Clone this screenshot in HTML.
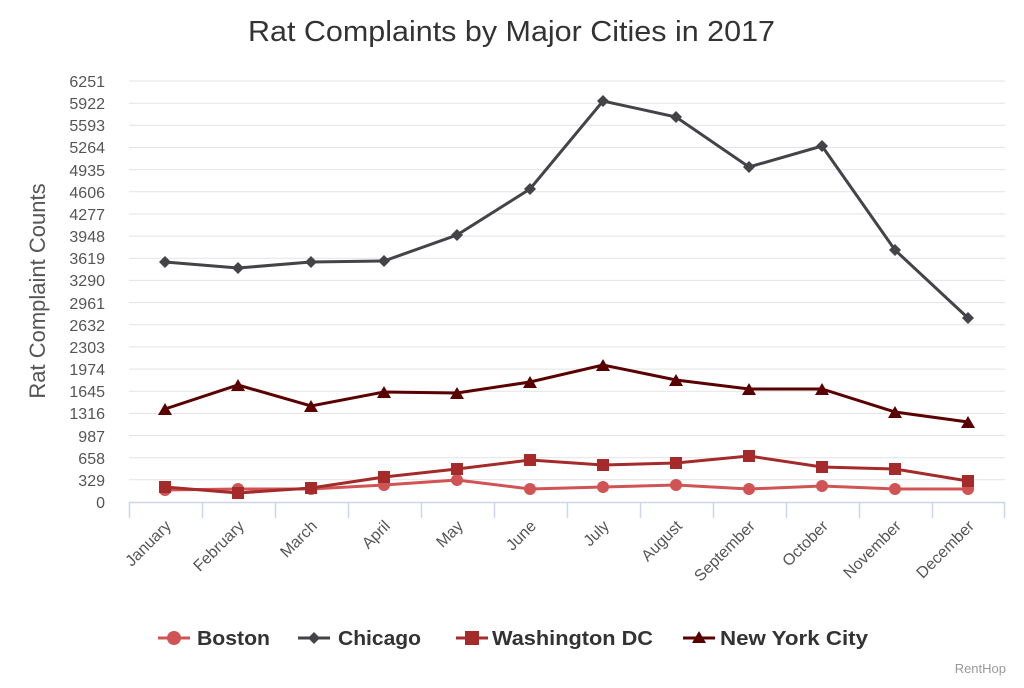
<!DOCTYPE html><html><head><style>body{margin:0;background:#fff}svg{font-family:"Liberation Sans","DejaVu Sans",sans-serif}</style></head><body>
<svg width="1024" height="683" xmlns="http://www.w3.org/2000/svg">
<text x="248" y="41" font-size="29" fill="#333" textLength="527" lengthAdjust="spacingAndGlyphs">Rat Complaints by Major Cities in 2017</text>
<g stroke="#e3e3e3" stroke-width="1">
<line x1="129" x2="1005" y1="81" y2="81"/><line x1="129" x2="1005" y1="103.2" y2="103.2"/><line x1="129" x2="1005" y1="125.3" y2="125.3"/><line x1="129" x2="1005" y1="147.5" y2="147.5"/><line x1="129" x2="1005" y1="169.6" y2="169.6"/><line x1="129" x2="1005" y1="191.8" y2="191.8"/><line x1="129" x2="1005" y1="213.9" y2="213.9"/><line x1="129" x2="1005" y1="236.1" y2="236.1"/><line x1="129" x2="1005" y1="258.3" y2="258.3"/><line x1="129" x2="1005" y1="280.4" y2="280.4"/><line x1="129" x2="1005" y1="302.6" y2="302.6"/><line x1="129" x2="1005" y1="324.7" y2="324.7"/><line x1="129" x2="1005" y1="346.9" y2="346.9"/><line x1="129" x2="1005" y1="369.1" y2="369.1"/><line x1="129" x2="1005" y1="391.2" y2="391.2"/><line x1="129" x2="1005" y1="413.4" y2="413.4"/><line x1="129" x2="1005" y1="435.5" y2="435.5"/><line x1="129" x2="1005" y1="457.7" y2="457.7"/><line x1="129" x2="1005" y1="479.8" y2="479.8"/>
</g>
<g font-size="16" fill="#555" text-anchor="end">
<text x="105" y="87">6251</text><text x="105" y="109">5922</text><text x="105" y="131">5593</text><text x="105" y="153">5264</text><text x="105" y="176">4935</text><text x="105" y="198">4606</text><text x="105" y="220">4277</text><text x="105" y="242">3948</text><text x="105" y="264">3619</text><text x="105" y="286">3290</text><text x="105" y="309">2961</text><text x="105" y="331">2632</text><text x="105" y="353">2303</text><text x="105" y="375">1974</text><text x="105" y="397">1645</text><text x="105" y="419">1316</text><text x="105" y="442">987</text><text x="105" y="464">658</text><text x="105" y="486">329</text><text x="105" y="508">0</text>
</g>
<text transform="translate(45,291) rotate(-90)" text-anchor="middle" font-size="22" fill="#555">Rat Complaint Counts</text>
<g stroke="#ccd6eb" stroke-width="1.5"><line x1="129" x2="1005" y1="502.5" y2="502.5"/>
<line x1="129.5" x2="129.5" y1="502" y2="518"/><line x1="202.5" x2="202.5" y1="502" y2="518"/><line x1="275.5" x2="275.5" y1="502" y2="518"/><line x1="348.5" x2="348.5" y1="502" y2="518"/><line x1="421.5" x2="421.5" y1="502" y2="518"/><line x1="494.5" x2="494.5" y1="502" y2="518"/><line x1="567.5" x2="567.5" y1="502" y2="518"/><line x1="640.5" x2="640.5" y1="502" y2="518"/><line x1="713.5" x2="713.5" y1="502" y2="518"/><line x1="786.5" x2="786.5" y1="502" y2="518"/><line x1="859.5" x2="859.5" y1="502" y2="518"/><line x1="932.5" x2="932.5" y1="502" y2="518"/><line x1="1004.5" x2="1004.5" y1="502" y2="518"/></g>
<g font-size="16" fill="#555" text-anchor="end">
<text transform="translate(172,527) rotate(-45)">January</text><text transform="translate(245,527) rotate(-45)">February</text><text transform="translate(318,527) rotate(-45)">March</text><text transform="translate(391,527) rotate(-45)">April</text><text transform="translate(464,527) rotate(-45)">May</text><text transform="translate(537,527) rotate(-45)">June</text><text transform="translate(610,527) rotate(-45)">July</text><text transform="translate(683,527) rotate(-45)">August</text><text transform="translate(756,527) rotate(-45)">September</text><text transform="translate(829,527) rotate(-45)">October</text><text transform="translate(902,527) rotate(-45)">November</text><text transform="translate(975,527) rotate(-45)">December</text>
</g>
<polyline fill="none" stroke="#d05454" stroke-width="3" points="165,490 238,489 311,489 384,485 457,480 530,489 603,487 676,485 749,489 822,486 895,489 968,489"/>
<g fill="#d05454"><circle cx="165" cy="490" r="6"/><circle cx="238" cy="489" r="6"/><circle cx="311" cy="489" r="6"/><circle cx="384" cy="485" r="6"/><circle cx="457" cy="480" r="6"/><circle cx="530" cy="489" r="6"/><circle cx="603" cy="487" r="6"/><circle cx="676" cy="485" r="6"/><circle cx="749" cy="489" r="6"/><circle cx="822" cy="486" r="6"/><circle cx="895" cy="489" r="6"/><circle cx="968" cy="489" r="6"/></g>
<polyline fill="none" stroke="#a52a2a" stroke-width="3" points="165,487 238,493 311,488 384,477 457,469 530,460 603,465 676,463 749,456 822,467 895,469 968,481"/>
<g fill="#a52a2a"><rect x="159" y="481" width="12" height="12"/><rect x="232" y="487" width="12" height="12"/><rect x="305" y="482" width="12" height="12"/><rect x="378" y="471" width="12" height="12"/><rect x="451" y="463" width="12" height="12"/><rect x="524" y="454" width="12" height="12"/><rect x="597" y="459" width="12" height="12"/><rect x="670" y="457" width="12" height="12"/><rect x="743" y="450" width="12" height="12"/><rect x="816" y="461" width="12" height="12"/><rect x="889" y="463" width="12" height="12"/><rect x="962" y="475" width="12" height="12"/></g>
<polyline fill="none" stroke="#5a0000" stroke-width="3" points="165,409 238,385 311,406 384,392 457,393 530,382 603,365 676,380 749,389 822,389 895,412 968,422"/>
<g fill="#5a0000"><path d="M165 403l7 12h-14z"/><path d="M238 379l7 12h-14z"/><path d="M311 400l7 12h-14z"/><path d="M384 386l7 12h-14z"/><path d="M457 387l7 12h-14z"/><path d="M530 376l7 12h-14z"/><path d="M603 359l7 12h-14z"/><path d="M676 374l7 12h-14z"/><path d="M749 383l7 12h-14z"/><path d="M822 383l7 12h-14z"/><path d="M895 406l7 12h-14z"/><path d="M968 416l7 12h-14z"/></g>
<polyline fill="none" stroke="#434348" stroke-width="3" points="165,262 238,268 311,262 384,261 457,235 530,189 603,101 676,117 749,167 822,146 895,250 968,318"/>
<g fill="#434348"><path d="M165 256l6 6-6 6-6-6z"/><path d="M238 262l6 6-6 6-6-6z"/><path d="M311 256l6 6-6 6-6-6z"/><path d="M384 255l6 6-6 6-6-6z"/><path d="M457 229l6 6-6 6-6-6z"/><path d="M530 183l6 6-6 6-6-6z"/><path d="M603 95l6 6-6 6-6-6z"/><path d="M676 111l6 6-6 6-6-6z"/><path d="M749 161l6 6-6 6-6-6z"/><path d="M822 140l6 6-6 6-6-6z"/><path d="M895 244l6 6-6 6-6-6z"/><path d="M968 312l6 6-6 6-6-6z"/></g>
<g font-size="20" font-weight="bold" fill="#333">
<line x1="158" x2="190" y1="638" y2="638" stroke="#d05454" stroke-width="3"/><circle cx="174" cy="638" r="7" fill="#d05454"/><text x="197" y="645" textLength="73" lengthAdjust="spacingAndGlyphs">Boston</text>
<line x1="298" x2="330" y1="638" y2="638" stroke="#434348" stroke-width="3"/><path d="M314 632l6 6-6 6-6-6z" fill="#434348"/><text x="338" y="645" textLength="83" lengthAdjust="spacingAndGlyphs">Chicago</text>
<line x1="456" x2="488" y1="638" y2="638" stroke="#a52a2a" stroke-width="3"/><rect x="465" y="631" width="14" height="14" fill="#a52a2a"/><text x="492" y="645" textLength="161" lengthAdjust="spacingAndGlyphs">Washington DC</text>
<line x1="683" x2="715" y1="638" y2="638" stroke="#5a0000" stroke-width="3"/><path d="M699 631l7 12h-14z" fill="#5a0000"/><text x="720" y="645" textLength="148" lengthAdjust="spacingAndGlyphs">New York City</text>
</g>
<text x="1006" y="673" text-anchor="end" font-size="13" fill="#999">RentHop</text>
</svg></body></html>
